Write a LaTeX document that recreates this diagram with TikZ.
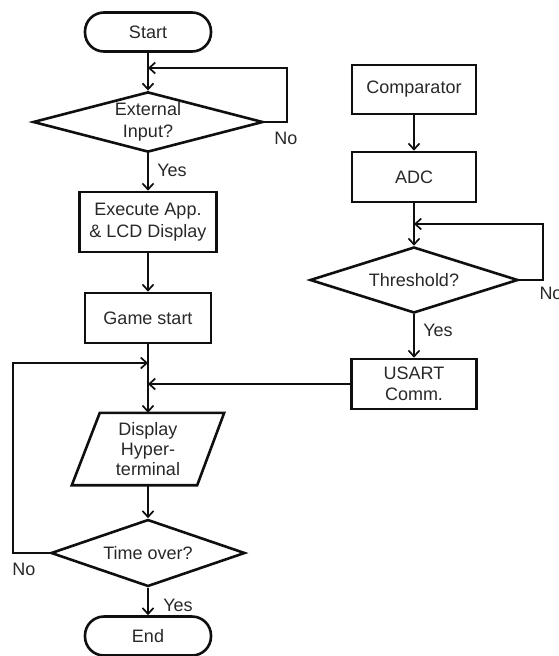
\documentclass[tikz,border=0pt]{standalone}
\usepackage{fontspec}
\setmainfont{Liberation Sans}
\usetikzlibrary{shapes.geometric,arrows.meta,calc}
\definecolor{txt}{RGB}{40,40,40}
\definecolor{ln}{RGB}{15,15,15}
\begin{document}
\begin{tikzpicture}[x=1pt,y=-1pt,
  every node/.style={text=txt,font=\fontsize{18}{21.5}\selectfont,inner sep=0pt,align=center},
  proc/.style={draw=ln,line width=2.6pt,rectangle},
  term/.style={draw=ln,line width=2.6pt,rectangle,rounded corners=19pt,minimum width=126pt,minimum height=39pt},
  dec/.style={draw=ln,line width=2.6pt,diamond,aspect=3},
  conn/.style={draw=ln,line width=1.7pt},
  arr/.style={conn,-{Straight Barb[length=6pt,width=11pt]}}]
\useasboundingbox (0,0) rectangle (559,656);
% left column
\node[term] (start) at (148,32) {Start};
\node[dec,minimum width=230pt,minimum height=60pt] (d1) at (148,122) {External\\Input?};
\node[proc,minimum width=137pt,minimum height=60pt] (exe) at (148,222) {Execute App.\\\& LCD Display};
\node[proc,minimum width=126pt,minimum height=50pt] (game) at (148,318) {Game start};
\node[minimum width=152pt,minimum height=72pt,font=\fontsize{18}{20}\selectfont] (disp) at (148,449) {Display\\Hyper-\\terminal};
\draw[ln,line width=2.6pt,line join=miter] ($(disp.north west)+(28,0)$) -- (disp.north east) -- ($(disp.south east)+(-27,0)$) -- (disp.south west) -- cycle;
\node[dec,minimum width=194pt,minimum height=67pt] (d3) at (148,553) {Time over?};
\node[term] (end) at (148,636) {End};
% right column
\node[proc,minimum width=124pt,minimum height=49pt] (comp) at (414,89.5) {Comparator};
\node[proc,minimum width=124pt,minimum height=50pt] (adc) at (414,177) {ADC};
\node[dec,minimum width=208pt,minimum height=66pt] (d2) at (414,280) {Threshold?};
\node[proc,minimum width=125pt,minimum height=50pt] (usart) at (414,384) {USART\\Comm.};
% labels
\node (no1) at (286,138) {No};
\node (yes1) at (172,170) {Yes};
\node (no2) at (551,293) {No};
\node (yes2) at (438,330) {Yes};
\node (no3) at (24,569) {No};
\node (yes3) at (178,605) {Yes};
% coordinates
\coordinate (r1) at (287,68);
\coordinate (j1) at (148,68);
\coordinate (r2) at (543,224);
\coordinate (j2) at (414,224);
\coordinate (l1) at (13,363);
\coordinate (j3) at (148,363);
\coordinate (j4) at (148,384);
% connectors
\draw[arr] (start.south) -- (d1.north);
\draw[arr] (d1.east) -| (r1) -- (j1);
\draw[arr] (d1.south) -- (exe.north);
\draw[arr] (exe.south) -- (game.north);
\draw[arr] (game.south) -- (disp.north);
\draw[arr] (disp.south) -- (d3.north);
\draw[arr] (d3.south) -- (end.north);
\draw[arr] (d3.west) -| (l1) -- (j3);
\draw[arr] (usart.west) -- (j4);
\draw[arr] (comp.south) -- (adc.north);
\draw[arr] (adc.south) -- (d2.north);
\draw[arr] (d2.east) -| (r2) -- (j2);
\draw[arr] (d2.south) -- (usart.north);
\end{tikzpicture}
\end{document}
